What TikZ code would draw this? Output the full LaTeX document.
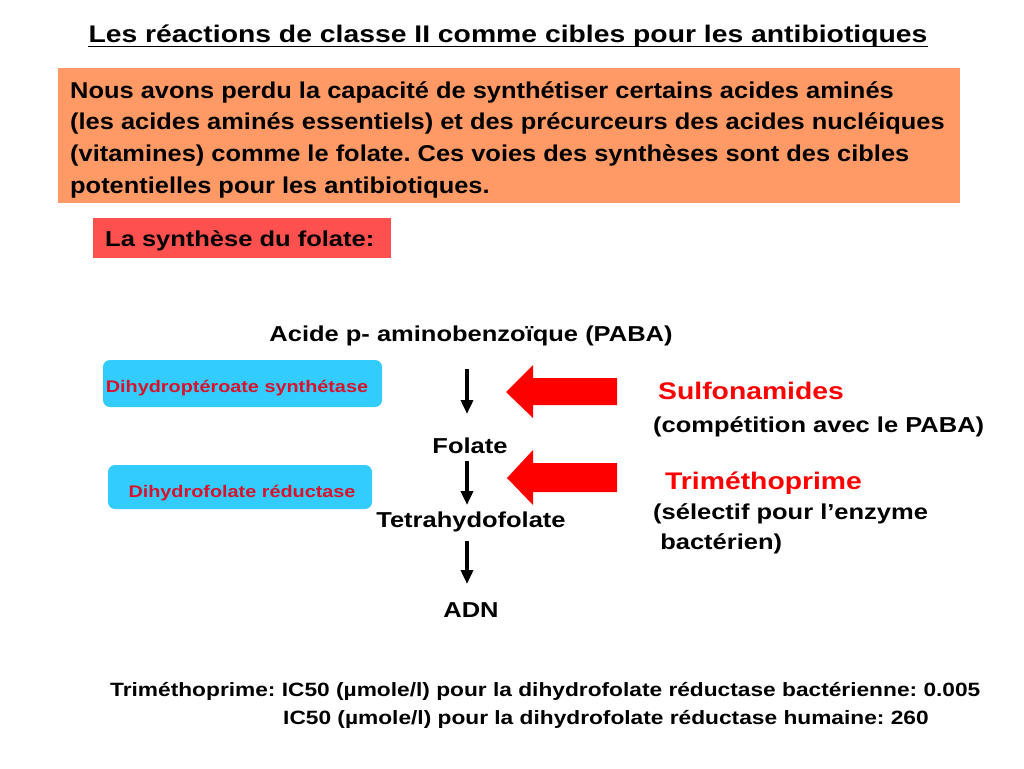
\documentclass[tikz,border=0pt]{standalone}
\usepackage{fontspec}
\setmainfont{Liberation Sans}[FakeStretch=1.18]
\newfontfamily\introfont{Liberation Sans}[FakeStretch=1.11]
\usetikzlibrary{arrows.meta}
\frenchspacing
\definecolor{orangebox}{HTML}{FF9966}
\definecolor{redbox}{HTML}{FF5050}
\definecolor{cyanbox}{HTML}{33CCFF}
\definecolor{enzred}{HTML}{D9122B}
\definecolor{drugred}{HTML}{FF0000}
\tikzset{
  txt/.style={inner sep=0pt, font=\bfseries\fontsize{21.6}{26}\selectfont},
  introtxt/.style={inner sep=0pt, anchor=base west, font=\introfont\bfseries\fontsize{22.9}{28}\selectfont},
  bottomtxt/.style={inner sep=0pt, anchor=base west, font=\bfseries\fontsize{19.25}{24}\selectfont},
  enzbox/.style={fill=cyanbox, rounded corners=7pt, draw=none},
  enztxt/.style={inner sep=0pt, text=enzred, font=\bfseries\fontsize{16.8}{20}\selectfont},
  drug/.style={inner sep=0pt, text=drugred, font=\bfseries\fontsize{24}{30}\selectfont},
  flow/.style={line width=3.6pt, -{Triangle[width=12pt,length=14pt]}},
  blockarrow/.style={fill=drugred, draw=none},
}
\begin{document}
\begin{tikzpicture}[x=1pt,y=-1pt]
\useasboundingbox (0,0) rectangle (1024,768);
\fill[white] (0,0) rectangle (1024,768);

% title
\node[inner sep=0pt, anchor=base, font=\bfseries\fontsize{24}{28}\selectfont] (title) at (508,42)
  {Les réactions de classe II comme cibles pour les antibiotiques};
\draw[line width=1.8pt] (title.base west) ++(0,4.5) coordinate (ul1) -- (ul1 -| title.base east);

% orange box
\fill[orangebox] (58,68) rectangle (960,203);
\node[introtxt] (intro1) at (70,98) {Nous avons perdu la capacité de synthétiser certains acides aminés};
\node[introtxt] (intro2) at (70,129.7) {(les acides aminés essentiels) et des précurceurs des acides nucléiques};
\node[introtxt] (intro3) at (70,161.3) {(vitamines) comme le folate. Ces voies des synthèses sont des cibles};
\node[introtxt] (intro4) at (70,193) {potentielles pour les antibiotiques.};

% red box
\fill[redbox] (93,218) rectangle (391,258);
\node[inner sep=0pt, anchor=base west, font=\bfseries\fontsize{21.6}{24}\selectfont] (synth) at (105,246) {La synthèse du folate:};

% pathway
\node[txt, anchor=base] (paba) at (471,341) {Acide p- aminobenzoïque (PABA)};
\node[txt, anchor=base] (folate) at (470,453) {Folate};
\node[txt, anchor=base] (thf) at (471,527) {Tetrahydofolate};
\node[txt, anchor=base] (adn) at (471,617) {ADN};

\coordinate (a1s) at (467,369); \coordinate (a1e) at (467,414);
\coordinate (a2s) at (467,461); \coordinate (a2e) at (467,505);
\coordinate (a3s) at (467,541); \coordinate (a3e) at (467,584);
\draw[flow] (a1s) -- (a1e);
\draw[flow] (a2s) -- (a2e);
\draw[flow] (a3s) -- (a3e);

% enzymes
\fill[enzbox] (103,360) rectangle (382,407);
\node[enztxt, anchor=base] (enz1) at (237,392) {Dihydroptéroate synthétase};
\fill[enzbox] (108,465) rectangle (372,509);
\node[enztxt, anchor=base] (enz2) at (242,497) {Dihydrofolate réductase};

% red block arrows
\fill[blockarrow] (506,392) -- (533,365) -- (533,378) -- (617,378) -- (617,405) -- (533,405) -- (533,418) -- cycle;
\fill[blockarrow] (507,478) -- (533,450) -- (533,463) -- (617,463) -- (617,492) -- (533,492) -- (533,505) -- cycle;

% drugs
\node[drug, anchor=base west] (sulfa) at (658,399) {Sulfonamides};
\node[txt, anchor=base west] (sulfanote) at (653,432) {(compétition avec le PABA)};
\node[drug, anchor=base west] (tmp) at (665,489) {Triméthoprime};
\node[txt, anchor=base west] (tmpnote1) at (653,519) {(sélectif pour l’enzyme};
\node[txt, anchor=base west] (tmpnote2) at (653,549) {\ bactérien)};

% bottom
\node[bottomtxt] (ic1) at (110,696)
  {Triméthoprime: IC50 (µmole/l) pour la dihydrofolate réductase bactérienne: 0.005};
\node[bottomtxt] (ic2) at (283,724)
  {IC50 (µmole/l) pour la dihydrofolate réductase humaine: 260};
\end{tikzpicture}
\end{document}
